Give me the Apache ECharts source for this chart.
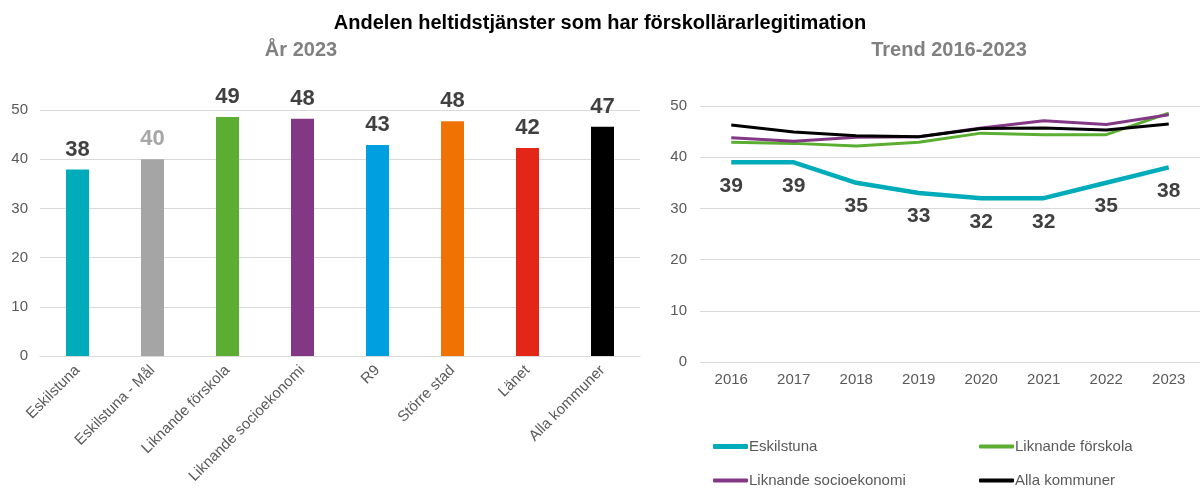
<!DOCTYPE html>
<html>
<head>
<meta charset="utf-8">
<script src="https://cdn.jsdelivr.net/npm/echarts@6/dist/echarts.min.js"></script>
<style>
  html, body { margin: 0; padding: 0; background: #fff; }
  #chart { width: 1200px; height: 489px; }
</style>
</head>
<body>
<div id="chart"></div>
<script>
// Vänster: år 2023
const barCategories = ['Eskilstuna', 'Eskilstuna - Mål', 'Liknande förskola', 'Liknande socioekonomi', 'R9', 'Större stad', 'Länet', 'Alla kommuner'];
const barValues = [37.9, 40, 48.6, 48.2, 42.9, 47.7, 42.3, 46.6];
const barLabels = ['38', '40', '49', '48', '43', '48', '42', '47'];
const barColors = ['#00acb9', '#a5a5a5', '#5bae31', '#833885', '#00a0e0', '#ef7203', '#e32617', '#000000'];

// Höger: trend 2016-2023
const years = ['2016', '2017', '2018', '2019', '2020', '2021', '2022', '2023'];
const eskilstuna = [39, 39, 35, 33, 32, 32, 35, 38];
const liknandeForskola = [42.9, 42.7, 42.2, 42.9, 44.7, 44.4, 44.4, 48.6];
const liknandeSocio = [43.8, 43.1, 43.9, 44.0, 45.7, 47.1, 46.4, 48.3];
const allaKommuner = [46.3, 44.9, 44.2, 44.0, 45.6, 45.7, 45.3, 46.5];

const chart = echarts.init(document.getElementById('chart'));

const font = 'Liberation Sans';
const gridLine = { lineStyle: { color: '#d9d9d9', width: 1 } };
const axisText = { color: '#595959', fontSize: 15, fontFamily: font };

function legendAt(name, left, top, width) {
  return {
    data: [name],
    left: left,
    top: top,
    padding: 0,
    icon: 'roundRect',
    itemWidth: 35,
    itemHeight: width,
    itemGap: 0,
    textStyle: { color: '#595959', fontSize: 15, fontFamily: font, padding: [0, 0, 0, -4] },
    selectedMode: false
  };
}

chart.setOption({
  animation: false,
  title: [
    {
      text: 'Andelen heltidstjänster som har förskollärarlegitimation',
      left: 'center', top: 8,
      textStyle: { color: '#000', fontSize: 20, fontWeight: 'bold', fontFamily: font }
    },
    {
      text: 'År 2023',
      left: 296, top: 35, textAlign: 'center',
      textStyle: { color: '#808080', fontSize: 20, fontWeight: 'bold', fontFamily: font }
    },
    {
      text: 'Trend 2016-2023',
      left: 944, top: 35, textAlign: 'center',
      textStyle: { color: '#808080', fontSize: 20, fontWeight: 'bold', fontFamily: font }
    }
  ],
  legend: [
    legendAt('Eskilstuna', 713, 439, 5),
    legendAt('Liknande förskola', 979, 439, 4),
    legendAt('Liknande socioekonomi', 713, 473, 4),
    legendAt('Alla kommuner', 979, 473, 4)
  ],
  grid: [
    { left: 40, right: 560, top: 110, bottom: 133 },
    { left: 700, right: 0, top: 106, bottom: 127 }
  ],
  xAxis: [
    {
      type: 'category', gridIndex: 0, data: barCategories,
      axisLine: { lineStyle: { color: '#d9d9d9' } },
      axisTick: { show: false },
      axisLabel: Object.assign({ rotate: 45, margin: 12, interval: 0 }, axisText, { fontSize: 15 })
    },
    {
      type: 'category', gridIndex: 1, data: years,
      axisLine: { lineStyle: { color: '#d9d9d9' } },
      axisTick: { show: false },
      axisLabel: Object.assign({ margin: 10 }, axisText)
    }
  ],
  yAxis: [
    {
      type: 'value', gridIndex: 0, min: 0, max: 50, interval: 10,
      axisLine: { show: false }, axisTick: { show: false },
      splitLine: gridLine,
      axisLabel: Object.assign({ margin: 12 }, axisText)
    },
    {
      type: 'value', gridIndex: 1, min: 0, max: 50, interval: 10,
      axisLine: { show: false }, axisTick: { show: false },
      splitLine: gridLine,
      axisLabel: Object.assign({ margin: 13 }, axisText)
    }
  ],
  series: [
    {
      type: 'bar', xAxisIndex: 0, yAxisIndex: 0,
      barWidth: 23,
      data: barValues.map((v, i) => ({
        value: v,
        itemStyle: { color: barColors[i] },
        label: { color: i === 1 ? '#a6a6a6' : '#404040' }
      })),
      label: {
        show: true, position: 'top', distance: 9,
        fontSize: 22, fontWeight: 'bold', fontFamily: font,
        formatter: (p) => barLabels[p.dataIndex]
      }
    },
    {
      name: 'Liknande förskola', type: 'line', xAxisIndex: 1, yAxisIndex: 1,
      data: liknandeForskola, symbol: 'none',
      lineStyle: { color: '#5bae31', width: 3 }, itemStyle: { color: '#5bae31' }
    },
    {
      name: 'Liknande socioekonomi', type: 'line', xAxisIndex: 1, yAxisIndex: 1,
      data: liknandeSocio, symbol: 'none',
      lineStyle: { color: '#833885', width: 3 }, itemStyle: { color: '#833885' }
    },
    {
      name: 'Alla kommuner', type: 'line', xAxisIndex: 1, yAxisIndex: 1,
      data: allaKommuner, symbol: 'none',
      lineStyle: { color: '#000000', width: 3 }, itemStyle: { color: '#000000' }
    },
    {
      name: 'Eskilstuna', type: 'line', xAxisIndex: 1, yAxisIndex: 1,
      data: eskilstuna, symbol: 'circle', symbolSize: 0.1, showSymbol: true,
      lineStyle: { color: '#00acb9', width: 4.5 }, itemStyle: { color: '#00acb9' },
      label: {
        show: true, position: 'bottom', distance: 13,
        color: '#404040', fontSize: 21, fontWeight: 'bold', fontFamily: font
      }
    }
  ]
});
</script>
</body>
</html>
